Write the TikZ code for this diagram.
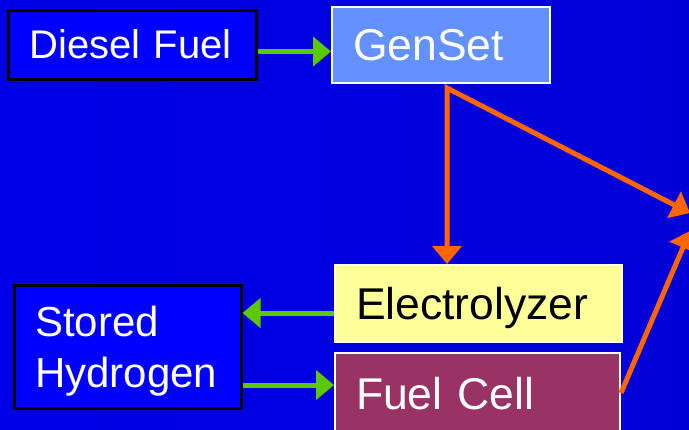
\documentclass[tikz,border=0pt]{standalone}
\usepackage{fontspec}
\setmainfont{Liberation Sans}
\usetikzlibrary{arrows.meta}
\definecolor{slideblue}{RGB}{0,0,232}
\definecolor{slidebluedark}{RGB}{0,0,214}
\definecolor{flowgreen}{RGB}{92,200,0}
\definecolor{powerorange}{RGB}{255,102,0}
\definecolor{gensetblue}{RGB}{99,145,255}
\definecolor{elecyellow}{RGB}{255,255,153}
\definecolor{fuelmaroon}{RGB}{153,51,102}

\begin{document}
\begin{tikzpicture}[x=1pt, y=-1pt, line join=miter, >={Triangle[length=18pt,width=29pt]},
	font=\fontsize{44.5}{51}\selectfont,
	box/.style={rectangle, draw=white, line width=2pt, text=white, inner xsep=21pt, inner ysep=0pt, text depth=0pt, align=left},
	flow/.style={->, line width=5pt, draw=flowgreen},
	power/.style={line width=5pt, draw=powerorange}]
	% Define window bounds
	\def\xmax{689} \def\ymax{429}
	
	% Slide background
	\fill[left color=slideblue, right color=slidebluedark] (0,0) rectangle (\xmax,\ymax);
	\useasboundingbox (0,0) rectangle (\xmax,\ymax);
	
	% Sources and units
	\node[box, draw=black, line width=3pt, fill=blue, text width=206pt, minimum height=69pt, font=\fontsize{40}{46}\selectfont] (diesel) at (132.5,44.5) {Diesel Fuel};
	\node[box, fill=gensetblue, text width=176pt, minimum height=76pt] (genset) at (441,45) {GenSet};
	\node[box, fill=elecyellow, text=black, text width=245pt, minimum height=77pt] (electrolyzer) at (478.5,303.5) {Electrolyzer};
	\node[box, fill=fuelmaroon, text width=243pt, minimum height=80pt] (fuelcell) at (477.5,393) {Fuel Cell};
	\node[box, draw=black, line width=3pt, fill=blue, text width=185pt, minimum height=123pt, text depth=51pt, font=\fontsize{42}{51}\selectfont] (hydrogen) at (127.5,346.5) {Stored\\Hydrogen};
	
	% Split point under the GenSet and loads off the right edge
	\coordinate (split) at (447,88);
	\coordinate (loadtop) at (690,213);
	\coordinate (loadlow) at (690,231);
	
	% Fuel and hydrogen flows
	\draw[flow] ([yshift=-7pt]diesel.east) -- ([yshift=-7pt]diesel.east -| genset.west);
	\draw[flow] ([yshift=-9.5pt]electrolyzer.west) -- ([yshift=-9.5pt]electrolyzer.west -| hydrogen.east);
	\draw[flow] ([yshift=-38.5pt]hydrogen.east) -- ([yshift=-38.5pt]hydrogen.east -| fuelcell.west);
	
	% Electric power
	\draw[power, <->] (split |- electrolyzer.north) -- (split) -- (loadtop);
	\draw[power, ->] (fuelcell.east) -- (loadlow);
\end{tikzpicture}
\end{document}
